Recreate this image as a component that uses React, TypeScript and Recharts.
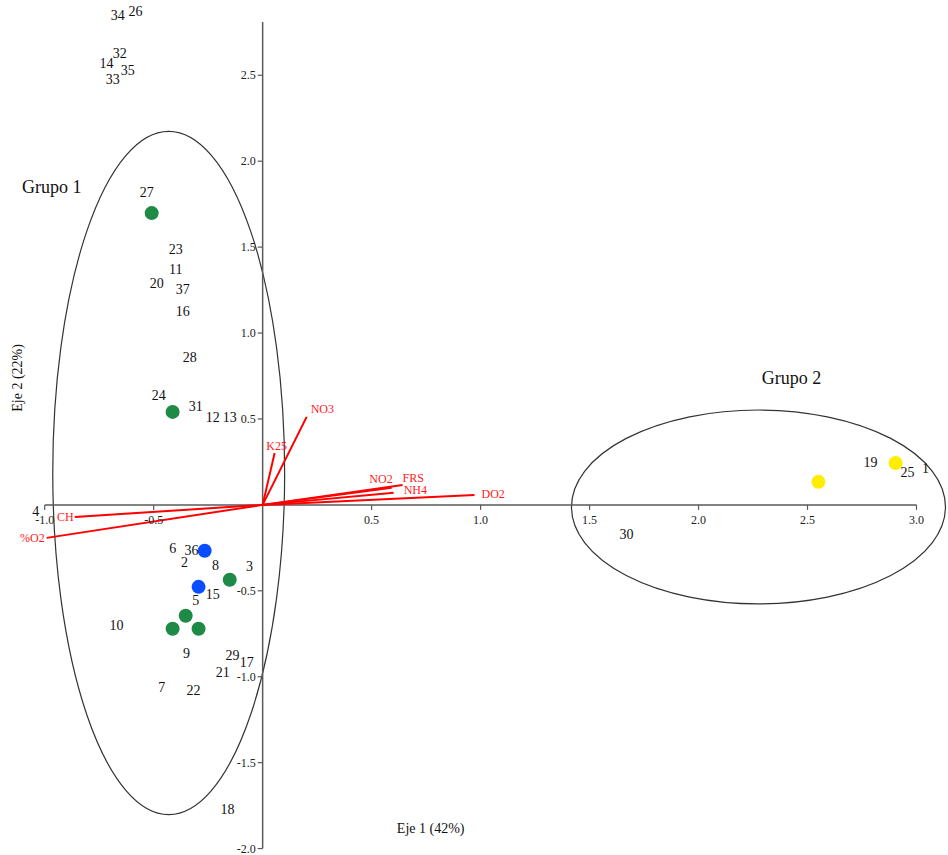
import { ScatterChart, Scatter, XAxis, YAxis, ReferenceLine, ReferenceDot, ReferenceArea } from "recharts";

// sitios (etiquetas numéricas)
const siteIds = ["34", "26", "32", "14", "35", "33", "27", "23", "11", "20", "37", "16", "28", "24", "31", "12", "13", "6", "36", "2", "8", "3", "15", "5", "10", "9", "29", "17", "21", "7", "22", "18", "30", "19", "25", "1", "4"];
const siteX = [-0.665, -0.583, -0.656, -0.716, -0.619, -0.688, -0.532, -0.399, -0.399, -0.486, -0.367, -0.367, -0.335, -0.477, -0.307, -0.229, -0.151, -0.413, -0.326, -0.358, -0.216, -0.06, -0.229, -0.307, -0.67, -0.349, -0.138, -0.073, -0.183, -0.463, -0.317, -0.161, 1.67, 2.789, 2.959, 3.041, -1.041];
const siteY = [2.849, 2.872, 2.628, 2.57, 2.529, 2.477, 1.82, 1.488, 1.372, 1.291, 1.256, 1.128, 0.86, 0.634, 0.57, 0.506, 0.506, -0.256, -0.267, -0.337, -0.355, -0.36, -0.523, -0.558, -0.703, -0.866, -0.878, -0.919, -0.977, -1.064, -1.081, -1.773, -0.174, 0.244, 0.186, 0.209, -0.041];

// puntos coloreados
const greenX = [-0.509, -0.413, -0.151, -0.353, -0.413, -0.294];
const greenY = [1.698, 0.541, -0.436, -0.645, -0.721, -0.721];
const blueX = [-0.266, -0.294];
const blueY = [-0.267, -0.477];
const yellowX = [2.55, 2.904];
const yellowY = [0.134, 0.244];

// variables (vectores)
const varNames = ["CH", "%O2", "NO3", "K25", "NO2", "FRS", "NH4", "DO2"];
const varX = [-0.862, -0.991, 0.202, 0.055, 0.592, 0.642, 0.601, 0.972];
const varY = [-0.07, -0.192, 0.512, 0.302, 0.099, 0.116, 0.07, 0.058];

const xTicks = [-1.0, -0.5, 0.5, 1.0, 1.5, 2.0, 2.5, 3.0];
const yTicks = [-2.0, -1.5, -1.0, -0.5, 0.5, 1.0, 1.5, 2.0, 2.5];

const FONT = "'Liberation Serif', 'Times New Roman', serif";

const varLabelStyle: Record<string, { anchor: "start" | "middle" | "end"; dx: number; dy: number }> = {
  CH: { anchor: "end", dx: -1, dy: 0 },
  "%O2": { anchor: "end", dx: -2, dy: 0 },
  NO3: { anchor: "start", dx: 4, dy: -8 },
  K25: { anchor: "middle", dx: 2, dy: -7 },
  NO2: { anchor: "end", dx: 1, dy: -9 },
  FRS: { anchor: "start", dx: 0, dy: -7 },
  NH4: { anchor: "start", dx: 10, dy: -3 },
  DO2: { anchor: "start", dx: 7, dy: -1 },
};

const sites = siteIds.map((id, i) => ({ id, x: siteX[i], y: siteY[i] }));
const green = greenX.map((x, i) => ({ x, y: greenY[i] }));
const blue = blueX.map((x, i) => ({ x, y: blueY[i] }));
const yellow = yellowX.map((x, i) => ({ x, y: yellowY[i] }));
const vars = varNames.map((name, i) => ({ name, x: varX[i], y: varY[i] }));

const dot = (color: string) => (p: any) => <circle cx={p.cx} cy={p.cy} r={7} fill={color} />;

const SiteLabel = (p: any) => (
  <text x={p.cx} y={p.cy} textAnchor="middle" dominantBaseline="central" fontSize={14} fontFamily={FONT} fill="#111">
    {p.payload.id}
  </text>
);

const VarLabel = (p: any) => {
  const s = varLabelStyle[p.payload.name];
  return (
    <text x={p.cx + s.dx} y={p.cy + s.dy} textAnchor={s.anchor} dominantBaseline="central" fontSize={12} fontFamily={FONT} fill="#ff1a1a">
      {p.payload.name}
    </text>
  );
};

const ellipseShape = (p: any) => (
  <ellipse cx={p.x + p.width / 2} cy={p.y + p.height / 2} rx={p.width / 2} ry={p.height / 2} fill="none" stroke="#333" strokeWidth={1.2} />
);

const AXIS = "#5a5a5a";

const xTickShape = (v: number) => (p: any) => (
  <g>
    <line x1={p.cx} y1={p.cy} x2={p.cx} y2={p.cy + 5} stroke={AXIS} strokeWidth={1.2} />
    <text x={p.cx} y={p.cy + 15} textAnchor="middle" dominantBaseline="central" fontSize={12} fontFamily={FONT} fill="#222">
      {v.toFixed(1)}
    </text>
  </g>
);

const yTickShape = (v: number) => (p: any) => (
  <g>
    <line x1={p.cx - 5} y1={p.cy} x2={p.cx} y2={p.cy} stroke={AXIS} strokeWidth={1.2} />
    <text x={p.cx - 7} y={p.cy} textAnchor="end" dominantBaseline="central" fontSize={12} fontFamily={FONT} fill="#222">
      {v.toFixed(1)}
    </text>
  </g>
);

const textShape = (t: string, size: number, rotate = false) => (p: any) => (
  <text
    x={p.cx}
    y={p.cy}
    textAnchor="middle"
    dominantBaseline="central"
    fontSize={size}
    fontFamily={FONT}
    fill="#111"
    transform={rotate ? `rotate(-90 ${p.cx} ${p.cy})` : undefined}
  >
    {t}
  </text>
);

export default function App() {
  return (
    <div style={{ position: "absolute", left: 0, top: 0, background: "#fff" }}>
      <ScatterChart width={948} height={855} margin={{ top: 0, right: 1, bottom: 3, left: 12 }}>
        <XAxis type="number" dataKey="x" domain={[-1.15, 3.14]} allowDataOverflow hide />
        <YAxis type="number" dataKey="y" domain={[-2.02, 2.938]} allowDataOverflow hide />

        <ReferenceArea x1={-0.963} x2={0.101} y1={-1.802} y2={2.174} shape={ellipseShape} ifOverflow="visible" />
        <ReferenceArea x1={1.417} x2={3.133} y1={-0.576} y2={0.552} shape={ellipseShape} ifOverflow="visible" />

        <ReferenceLine segment={[{ x: -1.0, y: 0 }, { x: 3.0, y: 0 }]} stroke={AXIS} strokeWidth={1.5} />
        <ReferenceLine segment={[{ x: 0, y: -2.0 }, { x: 0, y: 2.81 }]} stroke={AXIS} strokeWidth={1.5} />
        {xTicks.map((v) => (
          <ReferenceDot key={"xt" + v} x={v} y={0} shape={xTickShape(v)} />
        ))}
        {yTicks.map((v) => (
          <ReferenceDot key={"yt" + v} x={0} y={v} shape={yTickShape(v)} />
        ))}

        {vars.map((v) => (
          <ReferenceLine key={"v" + v.name} segment={[{ x: 0, y: 0 }, { x: v.x, y: v.y }]} stroke="#ff0000" strokeWidth={2} />
        ))}

        <Scatter data={green} shape={dot("#1e8a45")} isAnimationActive={false} />
        <Scatter data={blue} shape={dot("#0a4dff")} isAnimationActive={false} />
        <Scatter data={yellow} shape={dot("#ffee00")} isAnimationActive={false} />
        <Scatter data={sites} shape={SiteLabel} isAnimationActive={false} />
        <Scatter data={vars} shape={VarLabel} isAnimationActive={false} />

        <ReferenceDot x={-0.968} y={1.849} shape={textShape("Grupo 1", 18)} />
        <ReferenceDot x={2.427} y={0.738} shape={textShape("Grupo 2", 18)} />
        <ReferenceDot x={0.771} y={-1.884} shape={textShape("Eje 1 (42%)", 14)} />
        <ReferenceDot x={-1.124} y={0.739} shape={textShape("Eje 2 (22%)", 14, true)} />
      </ScatterChart>
    </div>
  );
}
